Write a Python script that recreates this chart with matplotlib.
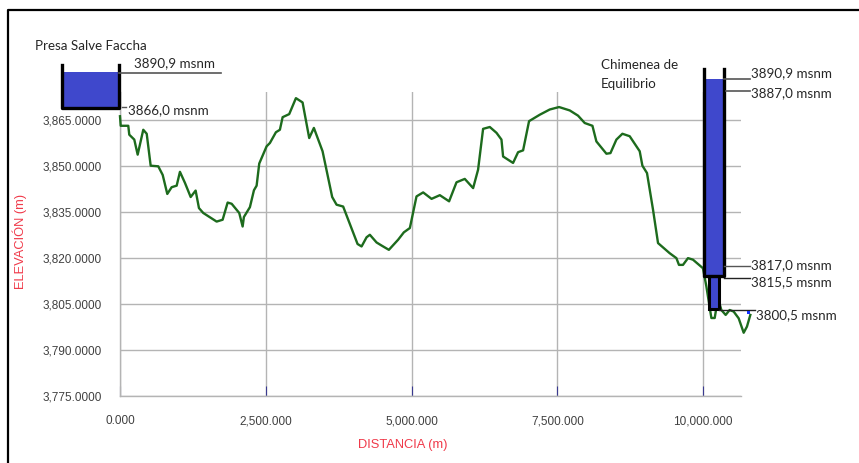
import matplotlib
matplotlib.use('Agg')
import matplotlib.pyplot as plt
from matplotlib.patches import Rectangle
from matplotlib.lines import Line2D
from matplotlib.ticker import FuncFormatter

# perfil del terreno (distancia m, elevacion m)
dist = [0, 12, 142, 159, 245, 303, 399, 458, 526, 656, 732, 811, 886, 972, 1028,
        1114, 1212, 1297, 1354, 1428, 1657, 1760, 1846, 1915, 2045, 2103, 2125,
        2228, 2297, 2343, 2388, 2514, 2571, 2674, 2742, 2789, 2902, 3017, 3131,
        3245, 3325, 3474, 3639, 3714, 3827, 4074, 4143, 4229, 4285, 4400, 4486,
        4611, 4770, 4868, 4971, 5085, 5199, 5343, 5485, 5644, 5771, 5913, 6056,
        6141, 6227, 6342, 6457, 6542, 6570, 6741, 6827, 6913, 7015, 7199, 7370,
        7530, 7713, 7855, 7970, 8102, 8170, 8342, 8411, 8513, 8616, 8741, 8913,
        8959, 9038, 9141, 9227, 9427, 9542, 9586, 9655, 9741, 9826, 9998, 10056,
        10142, 10199, 10255, 10313, 10387, 10455, 10524, 10610, 10696, 10752, 10810]
elev = [3866.1, 3863, 3863, 3860.1, 3858.5, 3853.6, 3861.7, 3860.4, 3850, 3849.8,
        3847, 3840.8, 3843, 3843.5, 3848, 3844.4, 3839.8, 3841.9, 3836.2, 3834.6,
        3831.8, 3832.4, 3838, 3837.6, 3834.6, 3830.2, 3833.3, 3836.5, 3842, 3843.5,
        3850.7, 3856.3, 3857.4, 3860.9, 3861.7, 3865.8, 3866.8, 3872, 3870.6, 3859,
        3862.3, 3854.7, 3839.8, 3837.3, 3836.7, 3824.5, 3823.7, 3826.7, 3827.5,
        3825, 3824, 3822.6, 3825.9, 3828.3, 3829.7, 3840, 3841.3, 3839.2, 3840.4,
        3838.4, 3844.6, 3845.7, 3842.7, 3848.7, 3862, 3862.6, 3860.7, 3858.5, 3853,
        3850.9, 3854.4, 3855, 3864.5, 3866.6, 3868.3, 3869.1, 3868, 3866.3, 3863.9,
        3863, 3857.9, 3853.9, 3854.1, 3858.5, 3860.4, 3859.6, 3854.7, 3850, 3847.6,
        3835.7, 3824.8, 3821.5, 3819.9, 3817.7, 3817.7, 3819.9, 3819.4, 3816.6,
        3810.7, 3800.4, 3800.4, 3806.9, 3803, 3801.4, 3803, 3802.5, 3800.3, 3795.6,
        3797.6, 3801.4]

yticks = [3775, 3790, 3805, 3820, 3835, 3850, 3865]
xticks = [0, 2500, 5000, 7500, 10000]

presa_labels = ['3890,9 msnm', '3866,0 msnm']
chim_labels = ['3890,9 msnm', '3887,0 msnm', '3817,0 msnm', '3815,5 msnm', '3800,5 msnm']

W, H = 859, 463
fig = plt.figure(figsize=(W / 100, H / 100), dpi=100)
ax = fig.add_axes([120 / W, 1 - 396 / H, 621 / W, 304 / H])

ax.plot(dist, elev, color='#1d6b1d', lw=1.7, clip_on=False, zorder=3)
ax.set_xlim(0, 10650)
ax.set_ylim(3775, 3874)
ax.set_yticks(yticks)
ax.set_xticks(xticks)
ax.yaxis.set_major_formatter(FuncFormatter(lambda v, p: f'{v:,.4f}'))
ax.xaxis.set_major_formatter(FuncFormatter(lambda v, p: f'{v:,.3f}'))
ax.grid(True, color='#b4b4b4', lw=1.0)
ax.set_axisbelow(True)
for s in ['top', 'right']:
    ax.spines[s].set_visible(False)
for s in ['left', 'bottom']:
    ax.spines[s].set_color('#b4b4b4')
    ax.spines[s].set_linewidth(1.0)

tfont = ['Liberation Sans', 'DejaVu Sans']
ax.tick_params(axis='y', length=0, pad=13, labelcolor='#404040', labelsize=8.5)
ax.tick_params(axis='x', direction='in', length=7, color='#3a3a90', pad=14,
               labelcolor='#404040', labelsize=8.5)
for lab in ax.get_xticklabels() + ax.get_yticklabels():
    lab.set_family(tfont)

ax.set_ylabel('ELEVACIÓN (m)', color='#f03a4a', fontsize=9.3, family=tfont)
ax.yaxis.set_label_coords((27 - 120) / 621, 0.51)
ax.set_xlabel('DISTANCIA (m)', color='#f03a4a', fontsize=9.3, family=tfont)
ax.xaxis.set_label_coords((403 - 120) / 621, -(439 - 396) / 304)


# helpers: pixel coordinates (from top-left) to figure fraction
def fx(x):
    return x / W


def fy(y):
    return 1 - y / H


def rect(x0, y0, x1, y1, **kw):
    fig.add_artist(Rectangle((fx(x0), fy(y1)), fx(x1) - fx(x0), fy(y0) - fy(y1),
                             transform=fig.transFigure, **kw))


def line(xs, ys, **kw):
    fig.add_artist(Line2D([fx(x) for x in xs], [fy(y) for y in ys],
                          transform=fig.transFigure, **kw))


def txt(x, y, s, **kw):
    fig.text(fx(x), fy(y), s, family=['Lato', 'DejaVu Sans'], color='#262626',
             fontsize=9.6, va='center', **kw)


blue = '#3f48cc'

# marco
line([7.5, 7.5, 859], [463, 10, 10], color='black', lw=1.6, zorder=6)

# presa
txt(35, 46, 'Presa Salve Faccha')
rect(62, 72, 118, 108, facecolor=blue, edgecolor='none', zorder=5)
line([62, 62, 119, 119], [65, 108, 108, 65], color='black', lw=2.4, zorder=6)
line([119, 221], [73, 73], color='#555555', lw=1.2, zorder=6)
txt(134, 63, presa_labels[0])
line([122, 126], [107, 107], color='#555555', lw=1.0, zorder=6)
txt(128, 110, presa_labels[1])

# chimenea de equilibrio
txt(601, 65, 'Chimenea de')
txt(601, 84, 'Equilibrio')
rect(703, 79, 724, 276, facecolor=blue, edgecolor='none', zorder=5)
line([703.5, 703.5, 723.5, 723.5], [69, 276, 276, 69], color='black', lw=2.4, zorder=6)
rect(709, 276, 719, 309, facecolor=blue, edgecolor='black', lw=2.2, zorder=5)
line([724, 750], [79, 79], color='#555555', lw=1.2, zorder=6)
line([726, 750], [91, 91], color='#555555', lw=1.2, zorder=6)
line([724, 750], [266, 266], color='#555555', lw=1.0, zorder=6)
line([724, 750], [277.5, 277.5], color='#222222', lw=1.0, zorder=6)
line([719, 755], [310, 310], color='#222222', lw=1.0, zorder=6)
txt(751, 73, chim_labels[0])
txt(751, 93, chim_labels[1])
txt(751, 265, chim_labels[2])
txt(751, 282, chim_labels[3])
txt(756, 315, chim_labels[4])
rect(746.5, 310.5, 750, 314, facecolor='#1030ff', edgecolor='none', zorder=6)

fig.savefig('out.png', dpi=100, facecolor='white')
